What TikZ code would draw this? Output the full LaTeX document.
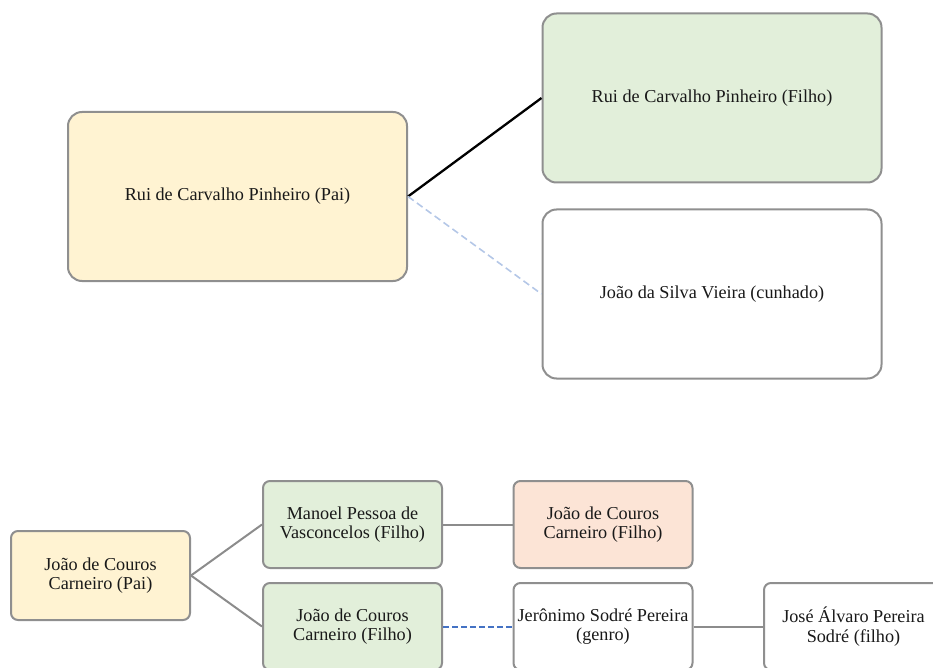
\documentclass[tikz,border=0pt]{standalone}
\usepackage{fontspec}
\setmainfont{Liberation Serif}
\usepackage{tikz}
\usetikzlibrary{positioning}

\definecolor{paiyellow}{HTML}{FFF3D2}
\definecolor{filhogreen}{HTML}{E2EFDA}
\definecolor{filhopeach}{HTML}{FCE4D6}
\definecolor{boxgray}{HTML}{8F8F8F}
\definecolor{linkgray}{HTML}{8C8C8C}
\definecolor{softblue}{HTML}{B4C7E7}
\definecolor{linkblue}{HTML}{4472C4}

\begin{document}
\begin{tikzpicture}[
  x=1pt, y=-1pt,
  every node/.style={font=\fontsize{18.2}{19.5}\selectfont, text=black!90},
  person/.style={draw=boxgray, line width=2pt, rounded corners=14pt,
                 minimum width=339pt, minimum height=169pt, inner sep=0pt,
                 align=center},
  small/.style={draw=boxgray, line width=2pt, rounded corners=7pt,
                minimum width=179pt, minimum height=87pt, inner sep=0pt,
                align=center},
  link/.style={draw=linkgray, line width=2pt}
]
  \useasboundingbox (0,0) rectangle (933,668);

  % first family
  \node[person, fill=paiyellow] (rui) at (237.5, 196.5) {Rui de Carvalho Pinheiro (Pai)};
  \node[person, fill=filhogreen] (ruifilho) at (712, 98) {Rui de Carvalho Pinheiro (Filho)};
  \node[person, fill=white] (joaosilva) at (712, 294) {João da Silva Vieira (cunhado)};

  \draw[line width=2.3pt] (rui.east) -- (ruifilho.west);
  \draw[softblue, line width=1.6pt, dash pattern=on 7pt off 4pt] (rui.east) -- (joaosilva.west);

  % second family
  \node[small, fill=paiyellow, minimum height=89pt] (couros) at (100.5, 575.5) {João de Couros\\Carneiro (Pai)};
  \node[small, fill=filhogreen] (manoel) at (352.5, 524.5) {Manoel Pessoa de\\Vasconcelos (Filho)};
  \node[small, fill=filhogreen] (courosfilho) at (352.5, 626.5) {João de Couros\\Carneiro (Filho)};
  \node[small, fill=filhopeach] (courosneto) at (603, 524.5) {João de Couros\\Carneiro (Filho)};
  \node[small, fill=white] (jeronimo) at (603, 626.5) {Jerônimo Sodré Pereira\\(genro)};
  \node[small, fill=white] (jose) at (853.5, 626.5) {José Álvaro Pereira\\Sodré (filho)};

  \draw[link] (couros.east) -- (manoel.west);
  \draw[link] (couros.east) -- (courosfilho.west);
  \draw[link] (manoel) -- (courosneto);
  \draw[linkblue, line width=2pt, dash pattern=on 6pt off 3pt] (courosfilho) -- (jeronimo);
  \draw[link] (jeronimo) -- (jose);
\end{tikzpicture}
\end{document}
